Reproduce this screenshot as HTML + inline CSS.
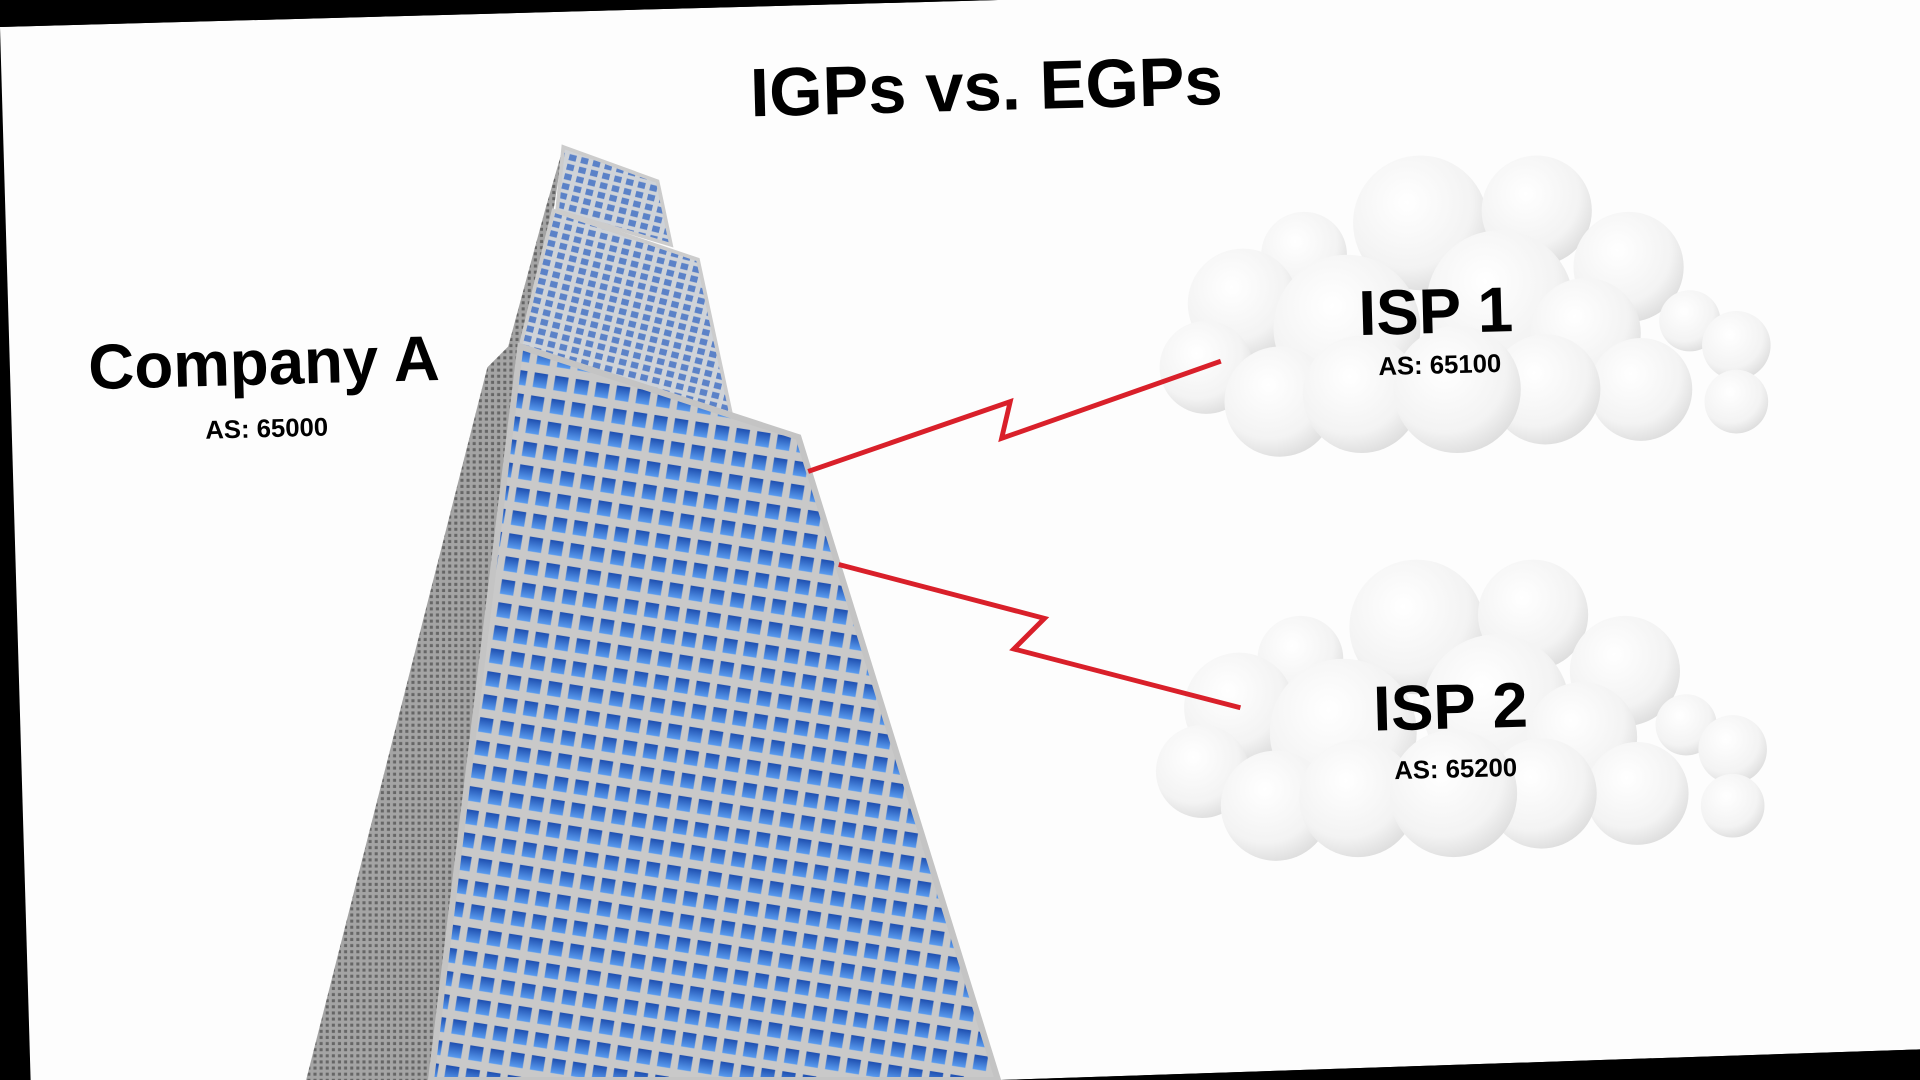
<!DOCTYPE html>
<html><head><meta charset="utf-8"><style>
html,body{margin:0;padding:0;background:#000;width:1920px;height:1080px;overflow:hidden}
svg{display:block}
text{font-family:"Liberation Sans",sans-serif;font-weight:bold;fill:#000}
</style></head><body>
<svg width="1920" height="1080" viewBox="0 0 1568 882" preserveAspectRatio="none">
<defs>
<radialGradient id="cg" cx="0.4" cy="0.35" r="0.75">
<stop offset="0" stop-color="#ffffff"/><stop offset="0.65" stop-color="#f3f3f3"/><stop offset="1" stop-color="#d6d6d6"/>
</radialGradient>
<linearGradient id="wb" x1="0" y1="0" x2="0" y2="1">
<stop offset="0" stop-color="#1e4fb0"/><stop offset="1" stop-color="#5a9cf0"/>
</linearGradient>
<pattern id="win" width="17" height="19" patternUnits="userSpaceOnUse" patternTransform="rotate(9)">
<rect width="17" height="19" fill="#c9c9c9"/><rect x="3" y="4" width="11" height="12" fill="url(#wb)"/>
</pattern>
<pattern id="win2" width="10" height="8" patternUnits="userSpaceOnUse" patternTransform="rotate(14)">
<rect width="10" height="8" fill="#cfd3d8"/><rect x="2" y="1.5" width="6" height="5" fill="#5b82c8"/>
</pattern>
<pattern id="side" width="5" height="5" patternUnits="userSpaceOnUse">
<rect width="5" height="5" fill="#a4a4a4"/><rect x="1" y="1" width="2.5" height="2.5" fill="#666"/>
</pattern>
<g id="cloud">
<circle cx="1160" cy="182" r="55" fill="url(#cg)"/>
<circle cx="1065" cy="208" r="35" fill="url(#cg)"/>
<circle cx="1255" cy="172" r="45" fill="url(#cg)"/>
<circle cx="1330" cy="218" r="45" fill="url(#cg)"/>
<circle cx="1380" cy="262" r="25" fill="url(#cg)"/>
<circle cx="1015" cy="248" r="45" fill="url(#cg)"/>
<circle cx="1418" cy="282" r="28" fill="url(#cg)"/>
<circle cx="1418" cy="328" r="26" fill="url(#cg)"/>
<circle cx="985" cy="300" r="38" fill="url(#cg)"/>
<circle cx="1100" cy="268" r="60" fill="url(#cg)"/>
<circle cx="1225" cy="248" r="60" fill="url(#cg)"/>
<circle cx="1295" cy="272" r="45" fill="url(#cg)"/>
<circle cx="1045" cy="328" r="45" fill="url(#cg)"/>
<circle cx="1340" cy="318" r="42" fill="url(#cg)"/>
<circle cx="1262" cy="318" r="45" fill="url(#cg)"/>
<circle cx="1112" cy="322" r="48" fill="url(#cg)"/>
<circle cx="1190" cy="318" r="52" fill="url(#cg)"/>
</g>
</defs>
<polygon points="0,22 815,0 1568,0 1568,857 817,882 25,882" fill="#fdfdfd"/>
<polygon points="0,22 815,0 0,0" fill="#000"/>
<polygon points="817,882 1568,857 1568,882" fill="#000"/>

<!-- building -->
<polygon points="460,120 445,172 415,283 398,300 250,882 355,882 425,283 452,172" fill="url(#side)"/>
<polygon points="460,120 537,148 548,200 455,172" fill="url(#win2)" stroke="#ccc" stroke-width="3"/>
<polygon points="452,172 570,212 597,338 425,283" fill="url(#win2)" stroke="#ccc" stroke-width="3"/>
<polygon points="425,283 652,357 815,882 352,882" fill="url(#win)" stroke="#c4c4c4" stroke-width="5"/>

<use href="#cloud"/>
<use href="#cloud" transform="translate(-3,330)"/>

<!-- links -->
<polyline points="660,385 825,328 818,358 997,295" fill="none" stroke="#d9202a" stroke-width="4"/>
<polyline points="685,461 853,505 828,530 1013,578" fill="none" stroke="#d9202a" stroke-width="4"/>

<text x="806" y="90" font-size="56" text-anchor="middle" style="font-weight:600" transform="rotate(-1.5 806 90)">IGPs vs. EGPs</text>
<text x="216" y="314" font-size="52" text-anchor="middle" transform="rotate(-1.5 216 314)">Company A</text>
<text x="218" y="357" font-size="21" text-anchor="middle" transform="rotate(-1.5 218 357)">AS: 65000</text>
<text x="1173" y="272" font-size="52" text-anchor="middle" transform="rotate(-1.5 1173 272)">ISP 1</text>
<text x="1176" y="305" font-size="21" text-anchor="middle" transform="rotate(-1.5 1176 305)">AS: 65100</text>
<text x="1185" y="595" font-size="52" text-anchor="middle" transform="rotate(-1.5 1185 595)">ISP 2</text>
<text x="1189" y="635" font-size="21" text-anchor="middle" transform="rotate(-1.5 1189 635)">AS: 65200</text>
</svg>
</body></html>
